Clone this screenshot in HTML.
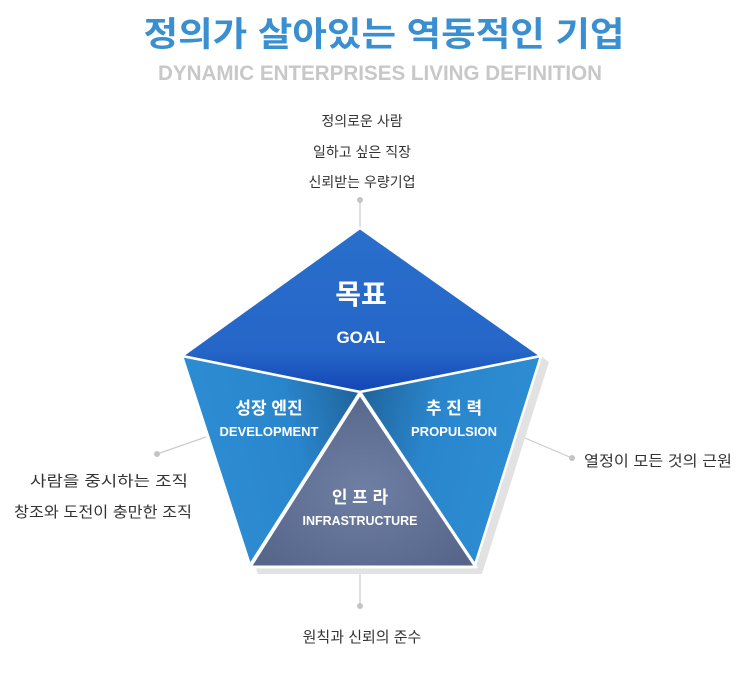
<!DOCTYPE html>
<html><head><meta charset="utf-8"><style>
html,body{margin:0;padding:0;background:#fff;}
svg{display:block}
.k{font-family:"Liberation Sans","Noto Sans CJK KR",sans-serif;}
</style></head><body>
<svg width="749" height="691" viewBox="0 0 749 691" xmlns="http://www.w3.org/2000/svg">
<defs>
<linearGradient id="gTop" x1="0" y1="0" x2="0" y2="1">
<stop offset="0" stop-color="#2a6fcb"/><stop offset="0.75" stop-color="#2566c8"/><stop offset="1" stop-color="#1346b4"/>
</linearGradient>
<linearGradient id="gL" x1="1" y1="0" x2="0" y2="0.3">
<stop offset="0" stop-color="#1e5f96"/><stop offset="0.45" stop-color="#2a86cc"/><stop offset="1" stop-color="#2c8dd3"/>
</linearGradient>
<linearGradient id="gR" x1="0" y1="0" x2="1" y2="0.3">
<stop offset="0" stop-color="#1e5f96"/><stop offset="0.45" stop-color="#2a86cc"/><stop offset="1" stop-color="#2c8dd3"/>
</linearGradient>
<radialGradient id="gT" cx="0.5" cy="0.55" r="0.6">
<stop offset="0" stop-color="#6f7fa3"/><stop offset="1" stop-color="#56658a"/>
</radialGradient>
</defs>

<text x="384" y="46" text-anchor="middle" class="k" font-size="34" font-weight="bold" fill="#3a8fd0" textLength="481" lengthAdjust="spacingAndGlyphs">정의가 살아있는 역동적인 기업</text>
<text x="380" y="80" text-anchor="middle" font-family="'Liberation Sans Narrow','Liberation Sans',sans-serif" font-size="21" font-weight="bold" fill="#c8c8c8" textLength="444" lengthAdjust="spacingAndGlyphs">DYNAMIC ENTERPRISES LIVING DEFINITION</text>

<g class="k" font-size="14" fill="#333" text-anchor="middle">
<text x="362" y="126">정의로운 사람</text>
<text x="362" y="157">일하고 싶은 직장</text>
<text x="362" y="187">신뢰받는 우량기업</text>
</g>
<g class="k" font-size="15" fill="#333" text-anchor="middle">
<text x="109" y="486" textLength="158" lengthAdjust="spacingAndGlyphs">사람을 중시하는 조직</text>
<text x="103" y="517" textLength="178" lengthAdjust="spacingAndGlyphs">창조와 도전이 충만한 조직</text>
<text x="658" y="466" textLength="148" lengthAdjust="spacingAndGlyphs">열정이 모든 것의 근원</text>
<text x="362" y="642">원칙과 신뢰의 준수</text>
</g>

<g stroke="#ccc" stroke-width="1.2">
<line x1="360" y1="200" x2="360" y2="228"/>
<line x1="157" y1="454" x2="206" y2="437"/>
<line x1="572" y1="458" x2="525" y2="438"/>
<line x1="360" y1="570" x2="360" y2="606"/>
</g>
<g fill="#c4c4c4">
<circle cx="360" cy="200" r="3"/><circle cx="157" cy="454" r="3"/><circle cx="572" cy="458" r="3"/><circle cx="360" cy="606" r="3"/>
</g>

<polygon points="366,234 549,362 482,574 258,574 187,362" fill="#e2e2e2"/>

<polygon points="360,228 541,356 360,392 182,356" fill="url(#gTop)" stroke="#fff" stroke-width="2.5" stroke-linejoin="round"/>
<polygon points="182,356 360,392 250,565" fill="url(#gL)" stroke="#fff" stroke-width="2.5" stroke-linejoin="round"/>
<polygon points="541,356 360,392 475,565" fill="url(#gR)" stroke="#fff" stroke-width="2.5" stroke-linejoin="round"/>
<polygon points="360,394 476,567 250,567" fill="url(#gT)" stroke="#fff" stroke-width="3" stroke-linejoin="round"/>

<g class="k" fill="#fff" text-anchor="middle" font-weight="bold">
<text x="361" y="304" font-size="28">목표</text>
<text x="361" y="343" font-size="17">GOAL</text>
<text x="269" y="414" font-size="17">성장 엔진</text>
<text x="269" y="436" font-size="13">DEVELOPMENT</text>
<text x="454" y="414" font-size="17">추 진 력</text>
<text x="454" y="436" font-size="13">PROPULSION</text>
<text x="360" y="503" font-size="17">인 프 라</text>
<text x="360" y="525" font-size="13" textLength="115" lengthAdjust="spacingAndGlyphs">INFRASTRUCTURE</text>
</g>
</svg>
</body></html>
